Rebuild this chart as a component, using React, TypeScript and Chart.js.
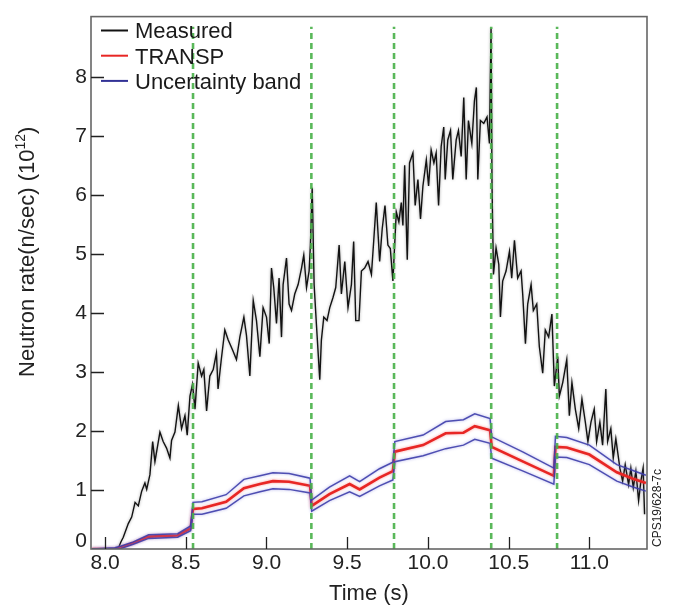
import React, { useEffect, useRef } from "react";
import { Chart, registerables } from "chart.js";

Chart.register(...registerables);

// ---------- data ----------
const measuredTime = [
  8.07, 8.082, 8.098, 8.113, 8.144, 8.165, 8.186, 8.206, 8.227, 8.247,
  8.258, 8.278, 8.295, 8.309, 8.34, 8.36, 8.381, 8.402, 8.412, 8.433,
  8.454, 8.474, 8.495, 8.509, 8.526, 8.542, 8.557, 8.577, 8.598, 8.612,
  8.629, 8.649, 8.67, 8.69, 8.7, 8.72, 8.742, 8.763, 8.79, 8.814,
  8.835, 8.86, 8.876, 8.897, 8.918, 8.938, 8.959, 8.979, 9.0, 9.017,
  9.031, 9.045, 9.062, 9.078, 9.093, 9.103, 9.124, 9.14, 9.155, 9.175,
  9.196, 9.217, 9.231, 9.248, 9.264, 9.272, 9.283, 9.295, 9.309, 9.33,
  9.34, 9.355, 9.375, 9.392, 9.412, 9.429, 9.45, 9.464, 9.485, 9.505,
  9.526, 9.54, 9.553, 9.573, 9.588, 9.608, 9.629, 9.65, 9.664, 9.68,
  9.701, 9.717, 9.734, 9.752, 9.767, 9.783, 9.804, 9.82, 9.835, 9.845,
  9.856, 9.872, 9.886, 9.907, 9.921, 9.938, 9.954, 9.969, 9.99, 10.004,
  10.02, 10.037, 10.051, 10.066, 10.082, 10.098, 10.107, 10.123, 10.14, 10.154,
  10.175, 10.189, 10.206, 10.222, 10.237, 10.251, 10.272, 10.288, 10.3, 10.309,
  10.325, 10.346, 10.366, 10.381, 10.391, 10.397, 10.406, 10.422, 10.439, 10.449,
  10.463, 10.484, 10.505, 10.519, 10.536, 10.556, 10.577, 10.587, 10.604, 10.618,
  10.639, 10.653, 10.674, 10.69, 10.711, 10.727, 10.748, 10.768, 10.783, 10.804,
  10.814, 10.835, 10.86, 10.876, 10.892, 10.913, 10.934, 10.954, 10.975, 10.991,
  11.01, 11.03, 11.045, 11.065, 11.082, 11.102, 11.113, 11.133, 11.148, 11.164,
  11.189, 11.206, 11.222, 11.243, 11.257, 11.272, 11.288, 11.305, 11.319, 11.333,
  11.342,
];
const measuredRate = [
  0.0, 0.01, 0.12, 0.2, 0.43, 0.54, 0.79, 0.73, 0.98, 1.12,
  1.01, 1.26, 1.82, 1.48, 1.98, 1.82, 1.71, 1.54, 1.84, 1.98,
  2.43, 2.04, 2.26, 1.93, 2.59, 2.79, 2.37, 3.15, 2.93, 3.04,
  2.34, 2.93, 3.04, 3.32, 2.71, 3.21, 3.71, 3.54, 3.37, 3.21,
  3.59, 3.93, 3.62, 2.93, 4.21, 3.87, 3.26, 4.09, 3.93, 3.48,
  4.76, 4.43, 3.82, 4.59, 3.59, 4.48, 4.93, 4.15, 4.04, 4.32,
  4.48, 4.76, 4.98, 4.43, 4.71, 5.15, 6.12, 4.48, 3.82, 2.87,
  3.54, 3.93, 3.87, 4.09, 4.26, 4.43, 5.15, 4.32, 4.87, 4.09,
  4.48, 5.21, 3.87, 3.87, 4.71, 4.76, 4.87, 4.65, 5.21, 5.87,
  4.87, 5.43, 5.82, 5.15, 5.09, 4.54, 5.71, 5.54, 5.87, 5.48,
  6.5, 4.9, 6.54, 6.71, 5.82, 6.26, 5.59, 6.15, 6.59, 6.15,
  6.76, 6.54, 6.71, 5.82, 6.82, 7.15, 6.26, 6.93, 7.09, 6.26,
  6.93, 7.09, 6.65, 7.65, 6.26, 7.26, 6.87, 7.59, 7.82, 6.26,
  7.26, 7.21, 7.32, 6.87, 8.82, 6.15, 4.65, 5.1, 4.82, 3.93,
  4.54, 4.71, 5.04, 4.59, 5.23, 4.59, 4.71, 4.32, 3.48, 4.15,
  4.48, 4.04, 4.15, 3.43, 2.98, 3.71, 3.59, 3.98, 2.76, 3.26,
  2.59, 2.82, 3.21, 2.26, 2.82, 2.37, 2.04, 2.54, 2.15, 1.82,
  2.15, 2.37, 1.82, 2.15, 1.76, 2.71, 1.82, 2.04, 1.54, 1.87,
  1.37, 1.15, 1.43, 1.09, 1.37, 1.04, 1.32, 0.82, 1.15, 1.37,
  0.59,
];

const transpTime = [
  7.92, 8.06, 8.1, 8.175, 8.27, 8.45, 8.53, 8.545, 8.6, 8.75,
  8.86, 8.96, 9.04, 9.14, 9.27, 9.28, 9.39, 9.515, 9.577, 9.7,
  9.783, 9.795, 9.97, 10.11, 10.22, 10.29, 10.385, 10.395, 10.59, 10.78,
  10.79, 10.86, 11.0, 11.17, 11.27, 11.35,
];
const transpRate = [
  0, 0, 0.03, 0.1, 0.21, 0.23, 0.35, 0.68, 0.69, 0.8,
  1.03, 1.1, 1.15, 1.14, 1.07, 0.73, 0.93, 1.1, 1.01, 1.21,
  1.32, 1.65, 1.76, 1.96, 1.97, 2.08, 2.01, 1.73, 1.48, 1.24,
  1.73, 1.72, 1.6, 1.3, 1.19, 1.12,
];
const bandUpper = [
  0, 0.02, 0.05, 0.12, 0.24, 0.26, 0.39, 0.79, 0.8, 0.92,
  1.18, 1.24, 1.29, 1.28, 1.2, 0.83, 1.05, 1.24, 1.14, 1.36,
  1.47, 1.82, 1.93, 2.16, 2.19, 2.29, 2.21, 1.9, 1.64, 1.37,
  1.91, 1.89, 1.76, 1.43, 1.33, 1.25,
];
const bandLower = [
  0, 0, 0.01, 0.08, 0.18, 0.2, 0.31, 0.59, 0.59, 0.69,
  0.9, 0.97, 1.02, 1.01, 0.95, 0.64, 0.82, 0.97, 0.89, 1.07,
  1.17, 1.48, 1.58, 1.7, 1.76, 1.86, 1.79, 1.54, 1.32, 1.1,
  1.56, 1.55, 1.43, 1.15, 1.05, 0.98,
];

const eventTimes = [8.545, 9.278, 9.79, 10.392, 10.8];
const eventLineTop = 8.85;

const xTickValues = [8.0, 8.5, 9.0, 9.5, 10.0, 10.5, 11.0];
const yTickValues = [0, 1, 2, 3, 4, 5, 6, 7, 8];

const X_MIN = 7.913;
const X_MAX = 11.357;
const Y_MIN = 0;
const Y_MAX = 9.02;

const FONT = "'Liberation Sans', Arial, Helvetica, sans-serif";
const RED = "rgb(232,38,36)";
const BLUE = "rgba(58,58,168,0.88)";
const GREEN = "rgba(72,176,72,0.9)";

const pairs = (xs: number[], ys: number[]) => xs.map((x, i) => ({ x, y: ys[i] }));

const decorPlugin = {
  id: "decor",
  beforeDatasetDraw(chart: any, args: any) {
    const ds = chart.data.datasets[args.index];
    if (ds.glowColor) {
      chart.ctx.save();
      chart.ctx.shadowColor = ds.glowColor;
      chart.ctx.shadowBlur = 3;
    }
  },
  afterDatasetDraw(chart: any, args: any) {
    const ds = chart.data.datasets[args.index];
    if (ds.glowColor) chart.ctx.restore();
  },
  afterDraw(chart: any) {
    const ctx: CanvasRenderingContext2D = chart.ctx;
    const { left, right, top, bottom } = chart.chartArea;
    const xs = chart.scales.x;
    const ys = chart.scales.y;
    ctx.save();

    // frame
    ctx.strokeStyle = "#666";
    ctx.lineWidth = 1.6;
    ctx.strokeRect(left, top, right - left, bottom - top);

    // inward ticks
    ctx.strokeStyle = "#222";
    ctx.lineWidth = 1.3;
    ctx.beginPath();
    xTickValues.forEach((v) => {
      const px = Math.round(xs.getPixelForValue(v)) + 0.5;
      ctx.moveTo(px, bottom);
      ctx.lineTo(px, bottom - 12);
    });
    yTickValues.forEach((v) => {
      if (v === 0) return;
      const py = Math.round(ys.getPixelForValue(v)) + 0.5;
      ctx.moveTo(left, py);
      ctx.lineTo(left + 13, py);
    });
    ctx.stroke();

    // "0" y label, lifted off the x labels
    ctx.fillStyle = "#222";
    ctx.font = `21px ${FONT}`;
    ctx.textAlign = "right";
    ctx.textBaseline = "middle";
    ctx.fillText(String(yTickValues[0]), left - 4, ys.getPixelForValue(0) - 8);

    // x title
    ctx.font = `22px ${FONT}`;
    ctx.textAlign = "center";
    ctx.textBaseline = "alphabetic";
    ctx.fillText("Time (s)", (left + right) / 2, 600);

    // y title with superscript
    ctx.save();
    ctx.translate(33.5, 377);
    ctx.rotate(-Math.PI / 2);
    ctx.textAlign = "left";
    ctx.font = `22px ${FONT}`;
    const main = "Neutron rate(n/sec) (10";
    ctx.fillText(main, 0, 0);
    let w = ctx.measureText(main).width;
    ctx.font = `14px ${FONT}`;
    ctx.fillText("12", w, -9);
    w += ctx.measureText("12").width;
    ctx.font = `22px ${FONT}`;
    ctx.fillText(")", w, 0);
    ctx.restore();

    // figure id
    ctx.save();
    ctx.translate(661, 547);
    ctx.rotate(-Math.PI / 2);
    ctx.textAlign = "left";
    ctx.font = `12px ${FONT}`;
    ctx.fillStyle = "#222";
    ctx.fillText("CPS19/628-7c", 0, 0);
    ctx.restore();

    // legend
    const items = chart.data.datasets.filter((d: any) => d.inLegend);
    ctx.font = `22px ${FONT}`;
    ctx.textAlign = "left";
    ctx.textBaseline = "alphabetic";
    items.forEach((d: any, i: number) => {
      const base = 38.4 + i * 25.2;
      const ly = base - 7.9;
      ctx.strokeStyle = d.legendColor;
      ctx.lineWidth = 2;
      ctx.beginPath();
      ctx.moveTo(101, ly);
      ctx.lineTo(128, ly);
      ctx.stroke();
      ctx.fillStyle = "#1a1a1a";
      ctx.fillText(d.label, 135, base);
    });

    ctx.restore();
  },
};

export default function App() {
  const ref = useRef<HTMLCanvasElement>(null);

  useEffect(() => {
    if (!ref.current) return;
    const eventSets = eventTimes.map((t, i) => ({
      label: `event${i}`,
      data: [
        { x: t, y: 0 },
        { x: t, y: eventLineTop },
      ],
      borderColor: GREEN,
      borderWidth: 2.6,
      borderDash: [6, 4],
      pointRadius: 0,
      order: 0,
    }));
    const chart = new Chart(ref.current, {
      type: "line",
      data: {
        datasets: [
          {
            label: "Measured",
            data: pairs(measuredTime, measuredRate),
            borderColor: "#121212",
            borderWidth: 1.4,
            pointRadius: 0,
            tension: 0,
            order: 4,
            inLegend: true,
            legendColor: "#121212",
            glowColor: "rgba(0,0,0,0.35)",
          } as any,
          {
            label: "TRANSP",
            data: pairs(transpTime, transpRate),
            borderColor: RED,
            borderWidth: 2.6,
            pointRadius: 0,
            order: 3,
            inLegend: true,
            legendColor: RED,
            glowColor: "rgba(240,90,90,0.6)",
          } as any,
          {
            label: "Uncertainty band",
            data: pairs(transpTime, bandUpper),
            borderColor: BLUE,
            borderWidth: 1.5,
            pointRadius: 0,
            order: 2,
            inLegend: true,
            legendColor: "rgb(50,50,150)",
            glowColor: "rgba(120,120,220,0.7)",
          } as any,
          {
            label: "Uncertainty band (lower)",
            data: pairs(transpTime, bandLower),
            borderColor: BLUE,
            borderWidth: 1.5,
            pointRadius: 0,
            order: 2,
            glowColor: "rgba(120,120,220,0.7)",
          } as any,
          ...eventSets,
        ],
      },
      options: {
        animation: false,
        responsive: false,
        devicePixelRatio: 1,
        events: [],
        layout: { padding: { left: 0, top: 8, right: 26, bottom: 0 } },
        plugins: {
          legend: { display: false },
          tooltip: { enabled: false },
          title: { display: false },
        },
        scales: {
          x: {
            type: "linear",
            min: X_MIN,
            max: X_MAX,
            grid: { display: false, drawTicks: false },
            border: { display: false },
            afterBuildTicks: (axis: any) => {
              axis.ticks = xTickValues.map((v) => ({ value: v }));
            },
            afterFit: (axis: any) => {
              axis.height = 59;
            },
            ticks: {
              autoSkip: false,
              maxRotation: 0,
              padding: 2,
              color: "#222",
              font: { family: FONT, size: 21 },
              callback: (v: any) => Number(v).toFixed(1),
            },
          },
          y: {
            type: "linear",
            min: Y_MIN,
            max: Y_MAX,
            grid: { display: false, drawTicks: false },
            border: { display: false },
            afterBuildTicks: (axis: any) => {
              axis.ticks = yTickValues.map((v) => ({ value: v }));
            },
            afterFit: (axis: any) => {
              axis.width = 91;
            },
            ticks: {
              autoSkip: false,
              padding: 4,
              color: "#222",
              font: { family: FONT, size: 21 },
              callback: (v: any) => (Number(v) === 0 ? "" : String(v)),
            },
          },
        },
      } as any,
      plugins: [decorPlugin],
    });
    return () => chart.destroy();
  }, []);

  return (
    <div style={{ position: "fixed", left: 0, top: 0, width: 673, height: 608, background: "#fff" }}>
      <canvas ref={ref} width={673} height={608} style={{ display: "block" }} />
    </div>
  );
}
